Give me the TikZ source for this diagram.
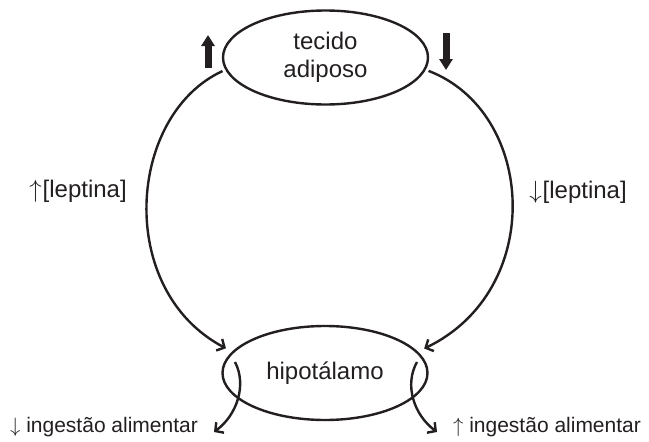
\documentclass[tikz,border=0pt]{standalone}
\usepackage{fontspec}
\setmainfont{Liberation Sans}
\usetikzlibrary{shapes.geometric,arrows.meta}
\definecolor{ink}{HTML}{231F20}
\begin{document}
\begin{tikzpicture}[x=1pt,y=-1pt, color=ink,
  organ/.style={ellipse, draw, line width=2.4pt, minimum width=205pt, minimum height=94pt, inner sep=0pt, align=center, font=\fontsize{24}{28}\selectfont},
  lbl/.style={inner sep=0pt, font=\fontsize{24}{28}\selectfont},
  slbl/.style={inner sep=0pt, font=\fontsize{21}{25}\selectfont},
  link/.style={line width=2.4pt, -{Straight Barb[length=6pt,width=13pt]}},
  boldarrow/.style={line width=7pt, -{Triangle[length=11pt,width=13pt]}}
]
\useasboundingbox (0,0) rectangle (649,442);
\node[organ] (tec) at (325.5,57.5) {tecido\\adiposo};
\node[organ] (hip) at (325,373) {hipotálamo};

\node[lbl] (lup) at (78,191) {$\uparrow$\kern1pt[leptina]};
\node[lbl] (ldn) at (578,192) {$\downarrow$\kern1pt[leptina]};
\node[slbl] (idn) at (104,427) {$\downarrow$ ingestão alimentar};
\node[slbl] (iup) at (547,427) {$\uparrow$ ingestão alimentar};

\coordinate (ub) at (208,68);
\coordinate (ut) at (208,35);
\coordinate (db) at (446,33);
\coordinate (dt) at (446,70);
\draw[boldarrow] (ub) -- (ut);
\draw[boldarrow] (db) -- (dt);

\draw[link, shorten <=3pt, shorten >=7pt] (tec.187) .. controls (127,115) and (115,290) .. (hip.167);
\draw[link, shorten <=3pt, shorten >=7pt] (tec.-7) .. controls (536,112) and (546,290) .. (hip.13);

\coordinate (ls) at (235,362);
\coordinate (le) at (214,432);
\draw[link] (ls) .. controls (247,385) and (237,415) .. (le);
\coordinate (rs) at (417,362);
\coordinate (re) at (437,432);
\draw[link] (rs) .. controls (404,385) and (414,415) .. (re);
\end{tikzpicture}
\end{document}
